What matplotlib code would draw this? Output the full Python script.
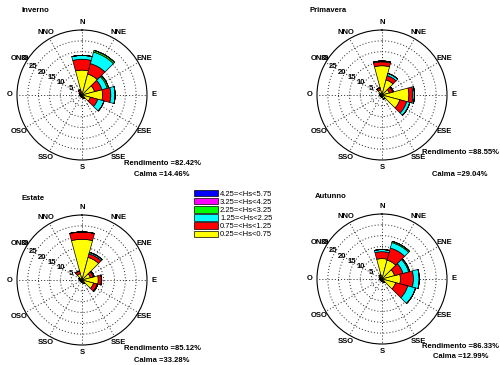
import numpy as np
import matplotlib
matplotlib.use('Agg')
import matplotlib.pyplot as plt

plt.rcParams['font.family'] = ['Liberation Sans', 'DejaVu Sans']

# 12 directions, clockwise from north
directions = ['N', 'NNE', 'ENE', 'E', 'ESE', 'SSE', 'S', 'SSO', 'OSO', 'O', 'ONO', 'NNO']
class_labels = ['0.25=<Hs<0.75', '0.75=<Hs<1.25', '1.25=<Hs<2.25',
                '2.25=<Hs<3.25', '3.25=<Hs<4.25', '4.25=<Hs<5.75']
class_colors = ['#ffff00', '#ff0000', '#00ffff', '#00ff00', '#ff00ff', '#0000ff']
zero = [0] * 12

# frequency (%) per class, per direction
inverno_y = [11.5, 10.0, 6.0, 9.5, 4.0, 1.5, 1.0, 0.8, 0.8, 1.0, 1.0, 1.5]
inverno_r = [5.0, 5.0, 3.5, 3.8, 3.5, 0.3, 0, 0, 0, 0, 0.3, 1.0]
inverno_c = [1.8, 5.5, 2.5, 2.0, 3.0, 0, 0, 0, 0, 0, 0, 0]
inverno_g = [0, 0.8, 0.7, 0, 0, 0, 0, 0, 0, 0, 0, 0]

primavera_y = [13.5, 7.2, 3.5, 12.4, 8.5, 2.0, 1.0, 0.8, 0.8, 1.0, 1.0, 2.5]
primavera_r = [1.8, 2.0, 1.5, 1.9, 3.3, 0, 0, 0, 0, 0, 0, 1.0]
primavera_c = [0.4, 1.1, 0.4, 0.7, 1.5, 0, 0, 0, 0, 0, 0, 0]
primavera_g = zero

estate_y = [18.8, 10.8, 4.0, 7.5, 5.5, 1.5, 1.0, 0.8, 0.8, 1.0, 1.5, 3.0]
estate_r = [3.4, 1.7, 1.3, 1.4, 1.7, 0.3, 0, 0, 0, 0, 0, 1.3]
estate_c = [0, 0.7, 0.5, 0.2, 0.3, 0, 0, 0, 0, 0, 0, 0]
estate_g = zero

autunno_y = [9.4, 9.0, 6.0, 8.5, 6.5, 1.5, 1.0, 0.8, 0.8, 1.0, 1.0, 1.5]
autunno_r = [3.2, 5.8, 4.0, 6.0, 5.8, 0.3, 0, 0, 0, 0, 0, 0.5]
autunno_c = [1.0, 2.6, 2.7, 2.7, 3.7, 0, 0, 0, 0, 0, 0, 0]
autunno_g = [0, 0.6, 0.5, 0, 0, 0, 0, 0, 0, 0, 0, 0]

seasons = ['Inverno', 'Primavera', 'Estate', 'Autunno']
rendimento = ['82.42', '88.55', '85.12', '86.33']
calma = ['14.46', '29.04', '33.28', '12.99']
season_data = [
    [inverno_y, inverno_r, inverno_c, inverno_g, zero, zero],
    [primavera_y, primavera_r, primavera_c, primavera_g, zero, zero],
    [estate_y, estate_r, estate_c, estate_g, zero, zero],
    [autunno_y, autunno_r, autunno_c, autunno_g, zero, zero],
]
rings = [5, 10, 15, 20, 25, 30]

W, H = 500, 365
fig = plt.figure(figsize=(5, 3.65), dpi=100)

# pixel layout: (center x, center y), title pos, stats pos
centers = [(82, 95), (382, 95), (82, 280), (382, 279)]
radius = 65
title_pos = [(22, 10), (310, 10), (21, 198), (315, 196)]
stats_pos = [(162, 163, 175), (460, 152, 174), (162, 348, 360), (461, 346, 357)]

theta = np.deg2rad(np.arange(12) * 30)
handles = []
for k in range(4):
    cx, cy = centers[k]
    ax = fig.add_axes([(cx - radius) / W, (H - cy - radius) / H,
                       2 * radius / W, 2 * radius / H], projection='polar')
    ax.set_theta_zero_location('N')
    ax.set_theta_direction(-1)
    ax.set_ylim(0, 30)
    ax.set_yticks(rings[:-1])
    ax.set_yticklabels([])
    ax.set_xticks(theta)
    ax.set_xticklabels([])
    ax.grid(True, color='#222222', linestyle=(0, (1, 2.2)), linewidth=0.7)
    ax.spines['polar'].set_linewidth(0.8)
    ax.set_axisbelow(True)

    bottom = np.zeros(12)
    for i in range(6):
        vals = np.array(season_data[k][i], dtype=float)
        b = ax.bar(theta, vals, width=np.deg2rad(30), bottom=bottom,
                   color=class_colors[i], edgecolor='black', linewidth=0.5,
                   zorder=3)
        bottom += vals
        if k == 0:
            handles.append(b)

    for t, lab in zip(theta, directions):
        ax.text(t, 33.3, lab, ha='center', va='center', fontsize=5.5,
                fontweight='bold', clip_on=False)
    for v in rings:
        ang = 303 if v == 30 else 300
        ax.text(np.deg2rad(ang), v + 1.2, str(v), ha='center', va='center',
                fontsize=5.5, fontweight='bold', clip_on=False, zorder=4)

    tx, ty = title_pos[k]
    fig.text(tx / W, 1 - ty / H, seasons[k], ha='left', va='center',
             fontsize=5.5, fontweight='bold')
    sx, sy1, sy2 = stats_pos[k]
    fig.text(sx / W, 1 - sy1 / H, 'Rendimento =' + rendimento[k] + '%',
             ha='center', va='center', fontsize=5.5, fontweight='bold')
    fig.text(sx / W, 1 - sy2 / H, 'Calma =' + calma[k] + '%',
             ha='center', va='center', fontsize=5.5, fontweight='bold')

fig.legend(handles[::-1], class_labels[::-1], loc='upper left',
           bbox_to_anchor=(194 / W, 1 - 190 / H), frameon=False,
           fontsize=5.5, handlelength=3.2, handleheight=0.9,
           labelspacing=0.04, handletextpad=0.2, borderpad=0,
           borderaxespad=0)

fig.savefig('out.png', dpi=100)
